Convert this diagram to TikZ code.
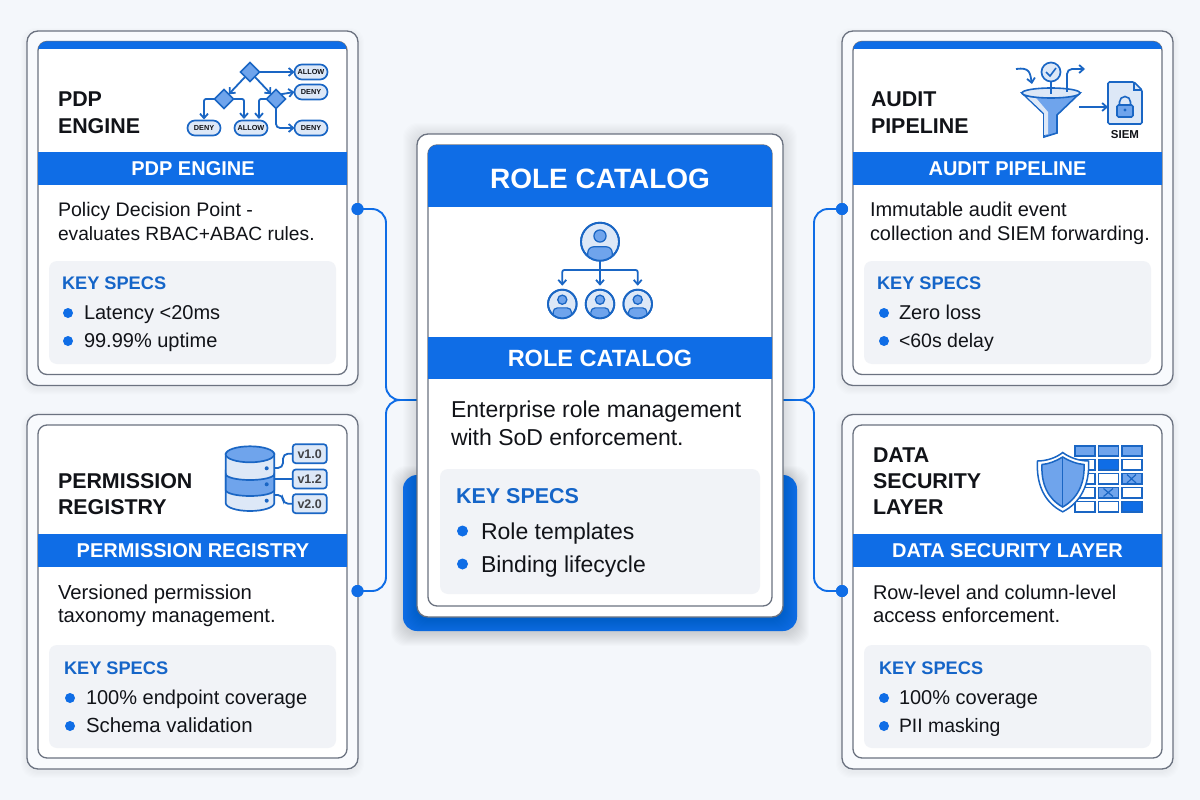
\documentclass[tikz,border=0pt]{standalone}
\usepackage{fontspec}
\setmainfont{Liberation Sans}
\usetikzlibrary{arrows.meta,shapes.geometric,calc}
\definecolor{bgc}{HTML}{F4F7FB}
\definecolor{blu}{HTML}{0F6DE6}
\definecolor{ico}{HTML}{1A66C4}
\definecolor{lite}{HTML}{DDE8F7}
\definecolor{midb}{HTML}{6FA4EC}
\definecolor{gry}{HTML}{6B7280}
\definecolor{pan}{HTML}{F1F3F7}
\definecolor{ink}{HTML}{111318}
\definecolor{kspec}{HTML}{1565C8}
\newcommand{\fsz}[1]{\fontsize{#1}{#1}\selectfont}
\tikzset{
  rct/.style={inner sep=0pt,outer sep=0pt,rectangle},
  outercard/.style={rct,draw=gry,line width=1.3pt,fill=bgc!60!white,rounded corners=11pt},
  innercard/.style={rct,draw=gry,line width=1.3pt,fill=white,rounded corners=9pt},
  panelbox/.style={rct,fill=pan,rounded corners=8pt},
  bandbox/.style={rct,fill=blu},
  lbl/.style={inner sep=0pt,outer sep=0pt,anchor=base west,text=ink},
  ttl/.style={lbl,font=\fsz{21.4}\bfseries},
  bandtxt/.style={inner sep=0pt,outer sep=0pt,anchor=base,text=white,font=\fsz{20}\bfseries},
  bodytxt/.style={lbl,font=\fsz{20}},
  spechd/.style={lbl,text=kspec,font=\fsz{18.2}\bfseries},
  bul/.style={circle,fill=blu,inner sep=0pt,outer sep=0pt,minimum size=10pt},
  conn/.style={draw=blu,line width=1.9pt,rounded corners=14pt},
  cdot/.style={circle,fill=blu,inner sep=0pt,outer sep=0pt,minimum size=12pt},
  icl/.style={draw=ico,line width=1.8pt},
  ica/.style={icl,-{Straight Barb[length=4.5pt,width=8pt]}},
  pillbox/.style={rectangle,rounded corners=7.4pt,draw=ico,line width=1.7pt,fill=lite,inner sep=0pt,outer sep=0pt,minimum width=33pt,minimum height=15pt,text=ink,font=\fsz{7.3}\bfseries},
  dia/.style={diamond,draw=ico,line width=1.5pt,fill=midb,inner sep=0pt,outer sep=0pt,minimum size=19pt},
  verbox/.style={rectangle,rounded corners=3pt,draw=ico,line width=1.7pt,fill=lite,inner sep=0pt,outer sep=0pt,minimum width=34pt,minimum height=19pt,text=ink!80,font=\fsz{12.5}\bfseries},
}
% \bx{name}{style}{x0}{y0}{x1}{y1}
\newcommand{\bx}[6]{%
  \pgfmathsetmacro{\bxw}{#5-#3}\pgfmathsetmacro{\bxh}{#6-#4}%
  \node[#2,minimum width=\bxw pt,minimum height=\bxh pt] (#1) at ({(#3+#5)/2},{(#4+#6)/2}) {};}
% soft shadow
\newcommand{\shad}[6]{%
  \foreach \sp in {1,...,#6}{%
    \fill[black,opacity=#5,rounded corners=14pt] (#1-\sp,#2-\sp+3) rectangle (#3+\sp,#4+\sp+3);}}
\newcommand{\sidecard}[3]{% id, x0, y0
  \pgfmathsetmacro{\xa}{#2}\pgfmathsetmacro{\ya}{#3}%
  \pgfmathsetmacro{\xb}{#2+331}\pgfmathsetmacro{\yb}{#3+354.5}%
  \pgfmathsetmacro{\xc}{#2+11}\pgfmathsetmacro{\yc}{#3+10.5}%
  \pgfmathsetmacro{\xd}{#2+320}\pgfmathsetmacro{\yd}{#3+343.5}%
  \shad{\xa}{\ya}{\xb}{\yb}{0.008}{6}%
  \bx{#1out}{outercard}{\xa}{\ya}{\xb}{\yb}%
  \bx{#1in}{innercard}{\xc}{\yc}{\xd}{\yd}%
}
\newcommand{\person}[4]{% name x y r
  \node[circle,draw=ico,line width=1.8pt,fill=lite,minimum size=#4*2 pt,inner sep=0pt,outer sep=0pt] (#1) at (#2,#3) {};
  \begin{scope}
    \clip (#2,#3) circle (#4-0.7);
    \fill[midb,draw=ico,line width=1.2pt,rounded corners=#4*0.3 pt] (#2-#4*0.64,#3+#4*1.3) rectangle (#2+#4*0.64,#3+#4*0.27);
  \end{scope}
  \draw[ico,line width=1.8pt] (#2,#3) circle (#4);
  \draw[ico,line width=1.3pt,fill=midb] (#2,#3-#4*0.3) circle (#4*0.32);
}
\begin{document}
\begin{tikzpicture}[x=1pt,y=-1pt]
\useasboundingbox (0,0) rectangle (1200,800);
\fill[bgc] (0,0) rectangle (1200,800);

% --- side cards
\sidecard{pdp}{27}{31}
\sidecard{perm}{27}{414.5}
\sidecard{aud}{842}{31}
\sidecard{dsl}{842}{414.5}

% blue top strips of upper cards
\begin{scope}
  \clip[rounded corners=9pt] (38,41.5) rectangle (347,70);
  \fill[blu] (38,41.5) rectangle (347,49);
\end{scope}
\begin{scope}
  \clip[rounded corners=9pt] (853,41.5) rectangle (1162,70);
  \fill[blu] (853,41.5) rectangle (1162,49);
\end{scope}

% --- bands
\bx{pdpband}{bandbox}{38}{152}{347}{185}
\bx{audband}{bandbox}{853}{152}{1162}{185}
\bx{permband}{bandbox}{38}{533.5}{347}{567}
\bx{dslband}{bandbox}{853}{533.5}{1162}{567}
\node[bandtxt] (pdpbt) at (193,175.5) {PDP ENGINE};
\node[bandtxt] (audbt) at (1007.5,175.5) {AUDIT PIPELINE};
\node[bandtxt] (permbt) at (193,557.5) {PERMISSION REGISTRY};
\node[bandtxt] (dslbt) at (1007.5,557.5) {DATA SECURITY LAYER};

% --- panels
\bx{pdppan}{panelbox}{49}{261}{336}{364}
\bx{audpan}{panelbox}{864}{261}{1151}{364}
\bx{permpan}{panelbox}{49}{645}{336}{748}
\bx{dslpan}{panelbox}{864}{645}{1151}{748}

% --- titles
\node[ttl] (t1a) at (58,106.5) {PDP};
\node[ttl] (t1b) at (58,133) {ENGINE};
\node[ttl] (t2a) at (871,106.5) {AUDIT};
\node[ttl] (t2b) at (871,133) {PIPELINE};
\node[ttl] (t3a) at (58,488) {PERMISSION};
\node[ttl] (t3b) at (58,514) {REGISTRY};
\node[ttl] (t4a) at (873,462) {DATA};
\node[ttl] (t4b) at (873,488) {SECURITY};
\node[ttl] (t4c) at (873,514) {LAYER};

% --- body text
\node[bodytxt,font=\fsz{19.6}] (b1a) at (58,216.5) {Policy Decision Point -};
\node[bodytxt,font=\fsz{19.2}] (b1b) at (58,240) {evaluates RBAC+ABAC rules.};
\node[bodytxt] (b2a) at (870,216.5) {Immutable audit event};
\node[bodytxt,font=\fsz{19.9}] (b2b) at (870,240) {collection and SIEM forwarding.};
\node[bodytxt,font=\fsz{20.3}] (b3a) at (58,599) {Versioned permission};
\node[bodytxt,font=\fsz{20.3}] (b3b) at (58,622.5) {taxonomy management.};
\node[bodytxt,font=\fsz{19.9}] (b4a) at (873,599) {Row-level and column-level};
\node[bodytxt,font=\fsz{20.3}] (b4b) at (873,622.5) {access enforcement.};

% --- key specs
\node[spechd] (k1) at (62,289) {KEY SPECS};
\node[bul] (d1a) at (68,313) {}; \node[bodytxt] (s1a) at (84,319.5) {Latency <20ms};
\node[bul] (d1b) at (68,341) {}; \node[bodytxt] (s1b) at (84,347.5) {99.99\% uptime};
\node[spechd] (k2) at (877,289) {KEY SPECS};
\node[bul] (d2a) at (884,313) {}; \node[bodytxt] (s2a) at (899,319.5) {Zero loss};
\node[bul] (d2b) at (884,341) {}; \node[bodytxt,font=\fsz{19.5}] (s2b) at (899,347.5) {<60s delay};
\node[spechd] (k3) at (64,674) {KEY SPECS};
\node[bul] (d3a) at (70,698) {}; \node[bodytxt] (s3a) at (86,704.5) {100\% endpoint coverage};
\node[bul] (d3b) at (70,726) {}; \node[bodytxt,font=\fsz{20.4}] (s3b) at (86,732.5) {Schema validation};
\node[spechd] (k4) at (879,674) {KEY SPECS};
\node[bul] (d4a) at (884,698) {}; \node[bodytxt] (s4a) at (899,704.5) {100\% coverage};
\node[bul] (d4b) at (884,726) {}; \node[bodytxt,font=\fsz{19.4}] (s4b) at (899,732.5) {PII masking};

% --- connectors
\coordinate (hubL) at (417,400);
\coordinate (hubR) at (783,400);
\node[cdot] (dLT) at (357.5,209) {};
\node[cdot] (dLB) at (357.5,591) {};
\node[cdot] (dRT) at (842,209) {};
\node[cdot] (dRB) at (842,591) {};
\draw[conn] (dLT.center) -- (386,209) -- (386,400) -- (hubL);
\draw[conn] (dLB.center) -- (386,591) -- (386,400) -- (hubL);
\draw[conn] (dRT.center) -- (814,209) -- (814,400) -- (hubR);
\draw[conn] (dRB.center) -- (814,591) -- (814,400) -- (hubR);

% --- centre card
\shad{403}{475}{797}{631}{0.012}{12}
\bx{cback}{rct,fill=blu,rounded corners=14pt}{403}{475}{797}{631}
\shad{417}{134}{783}{617}{0.008}{14}
\bx{cout}{rct,draw=gry,line width=1.3pt,fill=white,rounded corners=11pt}{417}{134}{783}{617}
\bx{cin}{rct,draw=gry,line width=1.3pt,fill=white,rounded corners=9pt}{428}{145}{772}{606}
\begin{scope}
  \clip[rounded corners=9pt] (428,145) rectangle (772,260);
  \fill[blu] (428,145) rectangle (772,207);
\end{scope}
\node[bandtxt,font=\fsz{28}\bfseries] (chead) at (600,188) {ROLE CATALOG};
\bx{cband}{bandbox}{428}{337}{772}{379}
\node[bandtxt,font=\fsz{23.5}\bfseries] (cbt) at (600,366.5) {ROLE CATALOG};
\node[bodytxt,font=\fsz{23}] (c1) at (451,417) {Enterprise role management};
\node[bodytxt,font=\fsz{23}] (c2) at (451,445.5) {with SoD enforcement.};
\bx{cpan}{panelbox}{440}{469}{760}{594}
\node[spechd,font=\fsz{21.5}\bfseries] (k5) at (456,503) {KEY SPECS};
\node[bul,minimum size=11pt] (d5a) at (462.5,531) {}; \node[bodytxt,font=\fsz{23}] (s5a) at (481,539) {Role templates};
\node[bul,minimum size=11pt] (d5b) at (462.5,564) {}; \node[bodytxt,font=\fsz{23}] (s5b) at (481,572) {Binding lifecycle};

% dots on top of the cards
\node[cdot] (dLT2) at (dLT) {};
\node[cdot] (dLB2) at (dLB) {};
\node[cdot] (dRT2) at (dRT) {};
\node[cdot] (dRB2) at (dRB) {};

% --- PDP icon
\node[dia] (q0) at (250,72) {};
\node[dia] (q1) at (224,99) {};
\node[dia] (q2) at (276,99) {};
\node[pillbox] (pA) at (311,72) {ALLOW};
\node[pillbox] (pB) at (311,92) {DENY};
\node[pillbox] (pC) at (311,128) {DENY};
\node[pillbox] (pD) at (204,128) {DENY};
\node[pillbox] (pE) at (251,128) {ALLOW};
\draw[ica] (q0.east) -- (pA.west);
\draw[ica] (q0.south west) -- (q1.north east);
\draw[ica] (q0.south east) -- (q2.north west);
\draw[ica,rounded corners=2pt] (q1.west) -- (pD.north |- q1.west) -- ($(pD.north)+(0,-1)$);
\draw[ica,rounded corners=2pt] (q1.east) -- (244,99) -- (244,119);
\draw[ica,rounded corners=2pt] (q2.west) -- (259,99) -- (259,119);
\draw[ica] (q2.north east) -- (pB.west);
\draw[ica,rounded corners=4pt] (q2.south) -- (276,128) -- (pC.west);

% --- Audit icon
\draw[ico,line width=1.6pt,fill=midb] (1022,93) -- (1044,114) -- (1044,137) -- (1057,133) -- (1057,115) -- (1080,93) -- cycle;
\fill[lite] (1027,97) -- (1044,113) -- (1044,135) -- (1048,134) -- (1048,112) -- (1036,98) -- cycle;
\draw[ico,line width=1.6pt,fill=lite] (1051,93) ellipse (29 and 5);
\node[circle,draw=ico,line width=1.7pt,fill=lite,minimum size=19pt,inner sep=0pt,outer sep=0pt] (chk) at (1051,72) {};
\draw[ico,line width=1.6pt] (1046,72) -- (1050,76) -- (1056,68);
\draw[icl] (chk.south) -- (1051,94);
\coordinate (ain) at (1016,69);
\coordinate (aout) at (1085,69);
\draw[ica] (ain) .. controls (1030,67) and (1030,73) .. (1032,84);
\draw[ica,rounded corners=5pt] (1067,92) -- (1067,69) -- (aout);
\bx{docb}{rct}{1108}{82}{1142}{124}
\draw[ico,line width=1.7pt,fill=lite,rounded corners=1.5pt] (docb.north west) -- (1134,82) -- (1142,90) -- (docb.south east) -- (docb.south west) -- cycle;
\draw[ico,line width=1.3pt] (1134,82) -- (1134,90) -- (1142,90);
\draw[ica] (1079,107) -- (docb.west |- 0,107);
\draw[ico,line width=1.6pt] (1119.5,106) -- (1119.5,102) arc[start angle=180,end angle=360,radius=5.5] -- (1130.5,106);
\draw[ico,line width=1.6pt,fill=midb,rounded corners=1.5pt] (1117,105) rectangle (1133,117);
\fill[ico] (1125,110) circle (1.7);
\node[lbl,anchor=base,font=\fsz{11.5}\bfseries] (siem) at (1125,138) {SIEM};

% --- Role icon
\person{rb}{600}{241.7}{19}
\person{r1}{562.3}{304}{14.3}
\person{r2}{600}{304}{14.3}
\person{r3}{637.7}{304}{14.3}
\draw[ica] (rb.south) -- ($(r2.north)+(0,-4)$);
\draw[ica,rounded corners=2pt] (600,270) -- (562.3,270) -- ($(r1.north)+(0,-4)$);
\draw[ica,rounded corners=2pt] (600,270) -- (637.7,270) -- ($(r3.north)+(0,-4)$);

% --- DB icon
\draw[ico,line width=1.7pt,fill=lite] (225.7,454) -- (225.7,503) arc[start angle=180,end angle=0,x radius=24.3,y radius=8] -- (274.3,454) -- cycle;
\draw[ico,line width=1.7pt,fill=midb] (225.7,474) arc[start angle=180,end angle=0,x radius=24.3,y radius=6] -- (274.3,490) arc[start angle=0,end angle=180,x radius=24.3,y radius=6] -- cycle;
\draw[ico,line width=1.7pt,fill=midb] (250,454.3) ellipse (24.3 and 8);
\foreach \yy in {468.3,484.3,500.7}{\fill[ico] (266.7,\yy) circle (2);}
\node[verbox] (v1) at (309.7,453.7) {v1.0};
\node[verbox] (v2) at (309.7,479) {v1.2};
\node[verbox] (v3) at (309.7,503.7) {v2.0};
\coordinate (dbA) at (274.3,468);
\coordinate (dbB) at (274.3,479);
\coordinate (dbC) at (274.3,495);
\draw[icl,rounded corners=5pt] (dbA) -- (283,468) -- (283,453.7) -- (v1.west);
\draw[icl] (dbB) -- (v2.west);
\draw[icl,rounded corners=5pt] (dbC) -- (283,495) -- (283,503.7) -- (v3.west);

% --- Data table icon
\newcommand{\cell}[5]{\fill[#5,draw=ico,line width=1.6pt] (#1,#3) rectangle (#2,#4);}
\foreach \xa/\xb in {1075/1095,1098.3/1118.3,1121.7/1141.7}{
  \cell{\xa}{\xb}{445.7}{455.7}{midb}
  \cell{\xa}{\xb}{459.3}{470}{white}
  \cell{\xa}{\xb}{473.3}{484}{white}
  \cell{\xa}{\xb}{487.3}{497.7}{white}
  \cell{\xa}{\xb}{501.3}{511.7}{white}
}
\cell{1098.3}{1118.3}{459.3}{470}{blu}
\cell{1121.7}{1141.7}{501.3}{511.7}{blu}
\cell{1121.7}{1141.7}{473.3}{484}{midb}
\cell{1098.3}{1118.3}{487.3}{497.7}{midb}
\draw[ico,line width=1.2pt] (1127,474.5) -- (1136,483) (1136,474.5) -- (1127,483);
\draw[ico,line width=1.2pt] (1103.5,488.5) -- (1113,496.5) (1113,488.5) -- (1103.5,496.5);
\draw[ico,line width=1.5pt,fill=white] (1062.7,452.5) .. controls (1070,458) and (1080,461) .. (1088.5,461) .. controls (1090,485) and (1080,503) .. (1062.7,511.8) .. controls (1045,503) and (1036,485) .. (1037.5,461) .. controls (1046,461) and (1056,458) .. (1062.7,452.5) -- cycle;
\draw[ico,line width=1.5pt,fill=midb] (1062.7,457) .. controls (1069,461) and (1077,464) .. (1084,464.5) .. controls (1085,484) and (1077,499) .. (1062.7,507) .. controls (1048,499) and (1041,484) .. (1042,464.5) .. controls (1049,464) and (1056,461) .. (1062.7,457) -- cycle;
\draw[ico,line width=1.3pt] (1062.7,457) -- (1062.7,507);
\end{tikzpicture}
\end{document}
